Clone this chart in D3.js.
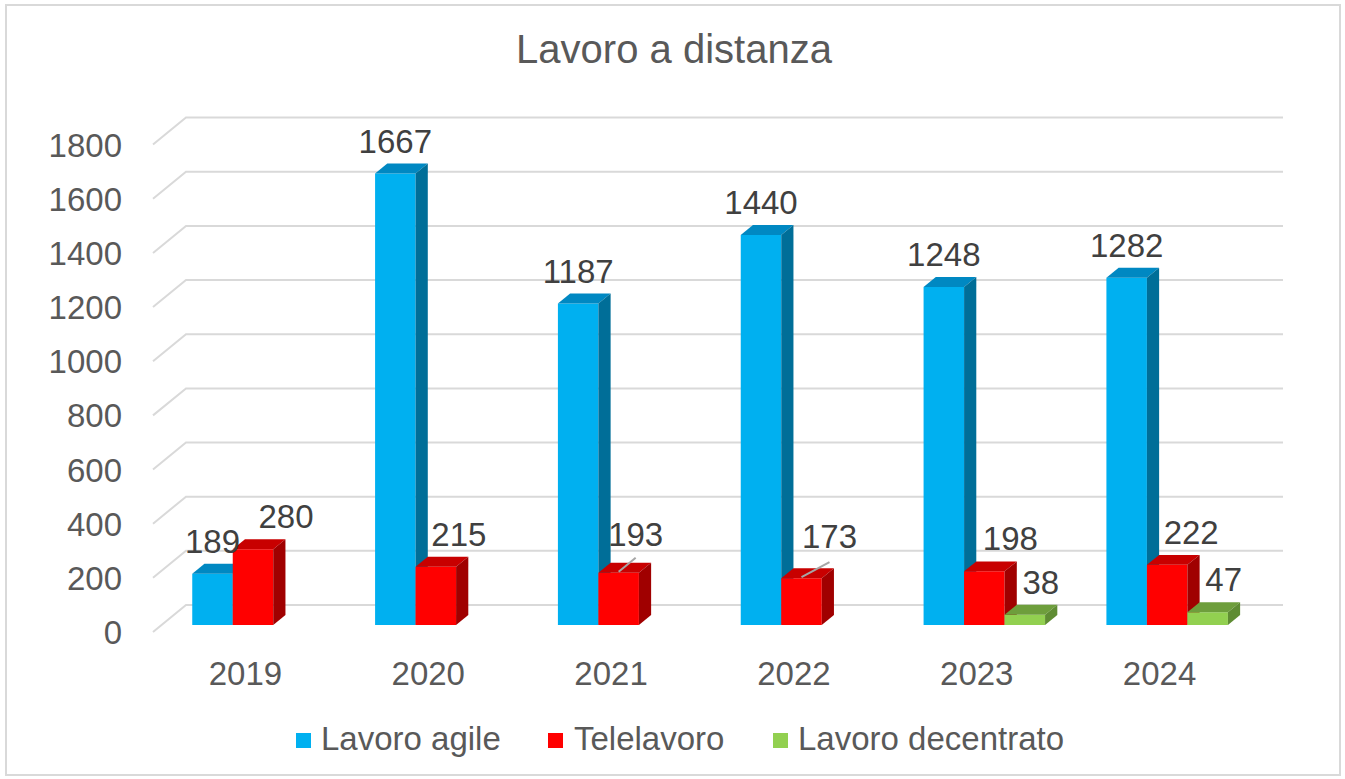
<!DOCTYPE html>
<html>
<head>
<meta charset="utf-8">
<script src="https://cdn.jsdelivr.net/npm/d3@7"></script>
<style>
  html, body { margin: 0; padding: 0; background: #fff; }
  svg { display: block; font-family: "Liberation Sans", Arial, sans-serif; }
</style>
</head>
<body>
<svg id="chart" width="1345" height="779"></svg>
<script>
// ---- data ----
const years = ["2019", "2020", "2021", "2022", "2023", "2024"];
const seriesNames = ["Lavoro agile", "Telelavoro", "Lavoro decentrato"];
const lavoroAgile = [189, 1667, 1187, 1440, 1248, 1282];
const telelavoro = [280, 215, 193, 173, 198, 222];
const lavoroDecentrato = [null, null, null, null, 38, 47];
const yTicks = [0, 200, 400, 600, 800, 1000, 1200, 1400, 1600, 1800];
const chartTitle = "Lavoro a distanza";

// ---- layout / style (not data) ----
const colors = [
  { front: "#00B0F0", top: "#0088C2", side: "#006E98" },
  { front: "#FF0000", top: "#C80000", side: "#A00000" },
  { front: "#92D050", top: "#6E9E3C", side: "#5F8C33" }
];
// manual nudges of data labels, per series per year
const labelNudgeX = [
  [0, 0, 0, 0, 0, 0],
  [33, 23, 17, 28, 26, 24],
  [0, 0, 0, 0, 16, 16]
];
const labelNudgeY = [
  [0, 0, 0, 0, 0, 0],
  [0, 0, -6, -9, 0, 0],
  [0, 0, 0, 0, 0, 0]
];
// leader lines (series, year index, end dy below label baseline)
const leaders = [ { s: 1, i: 2, dy: 12 }, { s: 1, i: 3, dy: 14 } ];

const values = [lavoroAgile, telelavoro, lavoroDecentrato];
const svg = d3.select("#chart");

const DX = 33, DY = 27;            // full depth offset of the floor / walls
const zFront = 0.26, zBack = 0.63; // bar depth range
const x = d3.scaleBand().domain(years).range([153, 1250]);
const groupW = 121.5;
const xs = d3.scaleBand().domain(seriesNames)
  .range([(x.bandwidth() - groupW) / 2, (x.bandwidth() + groupW) / 2]);
const y = d3.scaleLinear().domain([0, 1800]).range([632, 632 - 487.4]);

const P = (px, v, z) => [px + z * DX, y(v) - z * DY];

// border
svg.append("rect").attr("x", 6).attr("y", 5).attr("width", 1334).attr("height", 770)
  .attr("fill", "#fff").attr("stroke", "#d9d9d9").attr("stroke-width", 2);

// title
svg.append("text").attr("x", 674).attr("y", 63).attr("text-anchor", "middle")
  .attr("font-size", 40).attr("fill", "#595959").text(chartTitle);

// gridlines: left wall diagonal + back wall horizontal
const grid = svg.append("g").attr("stroke", "#d9d9d9").attr("stroke-width", 2).attr("fill", "none");
yTicks.forEach(t => {
  const a = P(x.range()[0], t, 0), b = P(x.range()[0], t, 1), c = P(x.range()[1], t, 1);
  grid.append("path").attr("d", d3.line()([a, b, c]));
});

// y axis labels
svg.append("g").selectAll("text").data(yTicks).join("text")
  .attr("x", 122).attr("y", d => y(d) + 12).attr("text-anchor", "end")
  .attr("font-size", 33).attr("fill", "#595959").text(d => d);

// x axis labels
svg.append("g").selectAll("text").data(years).join("text")
  .attr("x", d => x(d) + x.bandwidth() / 2 + 1).attr("y", 685).attr("text-anchor", "middle")
  .attr("font-size", 33).attr("fill", "#595959").text(d => d);

// bars
const bars = svg.append("g");
const poly = pts => "M" + pts.map(p => p.join(",")).join("L") + "Z";
years.forEach((yr, i) => {
  seriesNames.forEach((s, k) => {
    const v = values[k][i];
    if (v == null) return;
    const x0 = x(yr) + xs(s), x1 = x0 + xs.bandwidth();
    const c = colors[k];
    bars.append("path").attr("fill", c.front)
      .attr("d", poly([P(x0, 0, zFront), P(x1, 0, zFront), P(x1, v, zFront), P(x0, v, zFront)]));
    bars.append("path").attr("fill", c.top)
      .attr("d", poly([P(x0, v, zFront), P(x1, v, zFront), P(x1, v, zBack), P(x0, v, zBack)]));
    bars.append("path").attr("fill", c.side)
      .attr("d", poly([P(x1, 0, zFront), P(x1, 0, zBack), P(x1, v, zBack), P(x1, v, zFront)]));
  });
});

// label anchor helper
function labelPos(k, i) {
  const v = values[k][i];
  const cx = x(years[i]) + xs(seriesNames[k]) + xs.bandwidth() / 2;
  const top = P(cx, v, zFront);
  return {
    barX: top[0], barTop: top[1],
    lx: top[0] + labelNudgeX[k][i],
    ly: top[1] - 21 + labelNudgeY[k][i]
  };
}

// leader lines
leaders.forEach(L => {
  const p = labelPos(L.s, L.i);
  svg.append("line").attr("x1", p.barX).attr("y1", p.barTop - 1)
    .attr("x2", p.lx).attr("y2", p.ly + L.dy)
    .attr("stroke", "#a6a6a6").attr("stroke-width", 2);
});

// data labels
const labels = svg.append("g").attr("font-size", 33).attr("fill", "#404040").attr("text-anchor", "middle");
years.forEach((yr, i) => {
  seriesNames.forEach((s, k) => {
    const v = values[k][i];
    if (v == null) return;
    const p = labelPos(k, i);
    labels.append("text").attr("x", p.lx).attr("y", p.ly).text(v);
  });
});

// legend
const legendItems = [
  { name: seriesNames[0], sx: 296, tx: 321 },
  { name: seriesNames[1], sx: 548, tx: 574 },
  { name: seriesNames[2], sx: 773, tx: 798 }
];
const lg = svg.append("g");
legendItems.forEach((d, k) => {
  lg.append("rect").attr("x", d.sx).attr("y", 733).attr("width", 15).attr("height", 15).attr("fill", colors[k].front);
  lg.append("text").attr("x", d.tx).attr("y", 750).attr("font-size", 33).attr("fill", "#595959").text(d.name);
});
</script>
</body>
</html>
